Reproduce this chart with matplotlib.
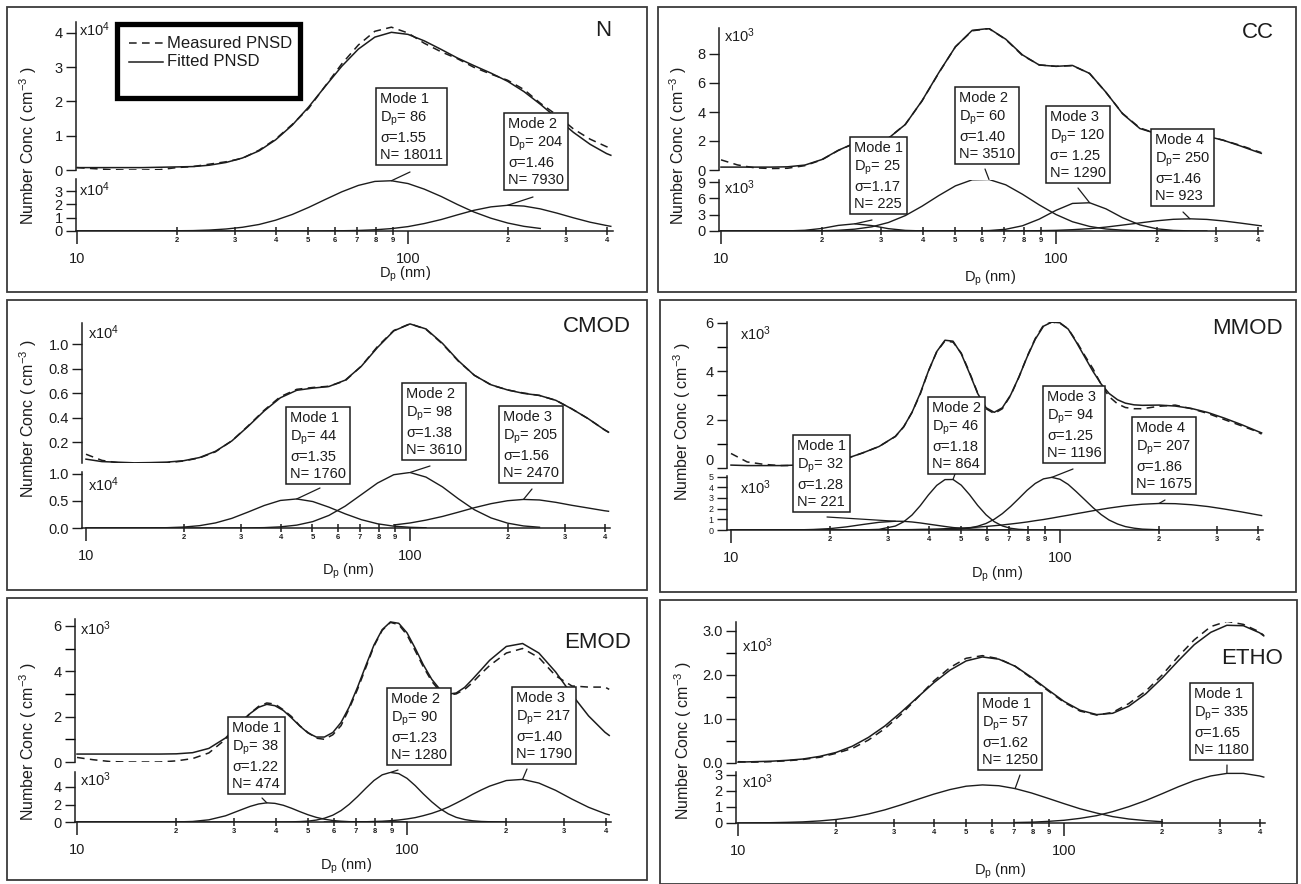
import matplotlib
matplotlib.use("Agg")
import matplotlib.pyplot as plt
from matplotlib.patches import Rectangle, ConnectionPatch
from matplotlib.lines import Line2D
from matplotlib.ticker import FixedLocator, FormatStrFormatter, FuncFormatter
import numpy as np

nan = float('nan')

# particle diameter grid (nm)
diam = [10.0, 11.2, 12.6, 14.1, 15.8, 17.8, 20.0, 22.4, 25.1, 28.2,
        31.6, 35.5, 39.8, 44.7, 50.1, 56.2, 63.1, 70.8, 79.4, 89.1,
        100, 112, 126, 141, 158, 178, 200, 224, 251, 282,
        316, 355, 398, 410]
# finer grid for the panels with narrow modes (MMOD, EMOD)
diam_fine = [10.0, 11.2, 12.6, 14.1, 15.8, 17.8, 20.0, 22.4, 25.1, 28.2,
             31.6, 33.5, 35.5, 37.6, 39.8, 42.2, 44.7, 47.3, 50.1, 53.1,
             56.2, 59.6, 63.1, 66.8, 70.8, 75.0, 79.4, 84.1, 89.1, 94.4,
             100, 105.9, 112, 118.9, 126, 133.4, 141, 149.6, 158, 167.9,
             178, 200, 224, 251, 282, 316, 355, 398, 410]

# ---- N ----
n_meas = [0.07, 0.04, 0.01, 0.00, 0.00, 0.01, 0.07, 0.10, 0.17, 0.24,
          0.34, 0.58, 0.90, 1.33, 1.80, 2.45, 3.10, 3.65, 4.05, 4.17,
          4.00, 3.70, 3.45, 3.25, 3.00, 2.80, 2.62, 2.35, 1.95, 1.60,
          1.20, 0.90, 0.68, 0.65]
n_fit = [0.07, 0.07, 0.07, 0.07, 0.07, 0.08, 0.09, 0.10, 0.14, 0.22,
         0.35, 0.56, 0.88, 1.31, 1.84, 2.44, 3.03, 3.53, 3.88, 4.02,
         3.96, 3.77, 3.52, 3.27, 3.05, 2.83, 2.59, 2.29, 1.92, 1.51,
         1.10, 0.75, 0.48, 0.43]
n_mode1 = [0.00, 0.00, 0.00, 0.00, 0.00, 0.01, 0.02, 0.03, 0.07, 0.15,
           0.28, 0.49, 0.81, 1.24, 1.77, 2.36, 2.94, 3.42, 3.72, 3.77,
           3.56, 3.14, 2.59, 1.99, 1.43, 0.96, 0.60, 0.35, 0.19, nan,
           nan, nan, nan, nan]
n_mode2 = [0.00, 0.00, 0.00, 0.00, 0.00, 0.00, 0.00, 0.00, 0.00, 0.00,
           0.00, 0.00, 0.00, 0.00, 0.00, 0.01, 0.02, 0.04, 0.09, 0.18,
           0.33, 0.56, 0.86, 1.21, 1.55, 1.81, 1.93, 1.87, 1.66, 1.34,
           0.99, 0.66, 0.41, 0.35]
n_labels = ["Mode 1\n$D_p$= 86\nσ=1.55\nN= 18011",
            "Mode 2\n$D_p$= 204\nσ=1.46\nN= 7930"]

# ---- CC ----
cc_meas = [0.70, 0.35, 0.15, 0.10, 0.12, 0.30, 0.70, 1.35, 1.85, 1.95,
           2.20, 3.15, 4.75, 6.70, 8.50, 9.60, 9.75, 9.00, 7.90, 7.25,
           7.15, 7.20, 6.65, 5.35, 3.90, 2.90, 2.50, 2.45, 2.50, 2.35,
           2.05, 1.70, 1.30, 1.20]
cc_fit = [0.20, 0.20, 0.20, 0.20, 0.22, 0.34, 0.72, 1.36, 1.86, 1.96,
          2.19, 3.14, 4.77, 6.72, 8.50, 9.63, 9.76, 9.02, 7.94, 7.24,
          7.15, 7.21, 6.66, 5.36, 3.88, 2.86, 2.50, 2.46, 2.46, 2.33,
          2.05, 1.66, 1.25, 1.15]
cc_mode1 = [0.00, 0.00, 0.00, 0.00, 0.02, 0.13, 0.47, 1.03, 1.32, 0.99,
            0.43, 0.11, 0.02, 0.00, 0.00, 0.00, 0.00, nan, nan, nan,
            nan, nan, nan, nan, nan, nan, nan, nan, nan, nan,
            nan, nan, nan, nan]
cc_mode2 = [0.00, 0.00, 0.00, 0.00, 0.00, 0.01, 0.05, 0.13, 0.34, 0.77,
            1.56, 2.83, 4.55, 6.52, 8.30, 9.41, 9.47, 8.49, 6.76, 4.80,
            3.03, 1.70, 0.84, 0.37, 0.15, 0.05, 0.02, 0.01, nan, nan,
            nan, nan, nan, nan]
cc_mode3 = [0.00, 0.00, 0.00, 0.00, 0.00, 0.00, 0.00, 0.00, 0.00, 0.00,
            0.00, 0.00, 0.00, 0.00, 0.00, 0.02, 0.08, 0.32, 0.96, 2.18,
            3.80, 5.07, 5.19, 4.07, 2.44, 1.12, 0.40, 0.11, 0.02, 0.00,
            nan, nan, nan, nan]
cc_mode4 = [nan, nan, nan, nan, nan, nan, nan, nan, nan, nan,
            nan, nan, nan, nan, 0.00, 0.00, 0.00, 0.01, 0.02, 0.06,
            0.12, 0.24, 0.43, 0.72, 1.09, 1.49, 1.88, 2.15, 2.24, 2.13,
            1.85, 1.46, 1.05, 0.95]
cc_labels = ["Mode 1\n$D_p$= 25\nσ=1.17\nN= 225",
             "Mode 2\n$D_p$= 60\nσ=1.40\nN= 3510",
             "Mode 3\n$D_p$= 120\nσ= 1.25\nN= 1290",
             "Mode 4\n$D_p$= 250\nσ=1.46\nN= 923"]

# ---- CMOD ----
cm_meas = [0.10, 0.05, 0.03, 0.02, 0.025, 0.03, 0.045, 0.07, 0.12, 0.21,
           0.33, 0.46, 0.57, 0.63, 0.645, 0.655, 0.70, 0.82, 0.98, 1.11,
           1.165, 1.12, 1.00, 0.86, 0.745, 0.665, 0.625, 0.60, 0.58, 0.54,
           0.47, 0.39, 0.30, 0.28]
cm_fit = [0.06, 0.04, 0.035, 0.03, 0.032, 0.036, 0.047, 0.073, 0.124, 0.209,
          0.326, 0.454, 0.561, 0.622, 0.640, 0.653, 0.705, 0.819, 0.972, 1.107,
          1.164, 1.123, 1.005, 0.864, 0.744, 0.667, 0.625, 0.597, 0.58, 0.54,
          0.47, 0.39, 0.30, 0.28]
cm_mode1 = [0.00, 0.00, 0.00, 0.00, 0.002, 0.006, 0.017, 0.043, 0.094, 0.179,
            0.294, 0.417, 0.510, 0.538, 0.490, 0.386, 0.262, 0.154, 0.078, 0.034,
            0.013, 0.004, nan, nan, nan, nan, nan, nan, nan, nan,
            nan, nan, nan, nan]
cm_mode2 = [0.00, 0.00, 0.00, 0.00, 0.00, 0.00, 0.00, 0.00, 0.00, 0.00,
            0.002, 0.007, 0.021, 0.053, 0.118, 0.233, 0.405, 0.619, 0.833, 0.987,
            1.028, 0.943, 0.761, 0.541, 0.338, 0.186, 0.090, 0.038, 0.014, nan,
            nan, nan, nan, nan]
cm_mode3 = [nan, nan, nan, nan, nan, nan, nan, nan, nan, nan,
            nan, nan, nan, nan, nan, nan, nan, nan, nan, 0.056,
            0.093, 0.146, 0.214, 0.293, 0.376, 0.451, 0.505, 0.529, 0.519, 0.475,
            0.42, 0.37, 0.32, 0.31]
cm_labels = ["Mode 1\n$D_p$= 44\nσ=1.35\nN= 1760",
             "Mode 2\n$D_p$= 98\nσ=1.38\nN= 3610",
             "Mode 3\n$D_p$= 205\nσ=1.56\nN= 2470"]

# ---- MMOD (fine grid) ----
mm_meas = [0.60, 0.25, 0.15, 0.10, 0.10, 0.15, 0.23, 0.39, 0.62, 0.89,
           1.30, 1.70, 2.30, 3.05, 4.00, 4.80, 5.25, 5.20, 4.75, 3.95,
           3.10, 2.45, 2.25, 2.45, 3.00, 3.75, 4.60, 5.35, 5.90, 6.03,
           5.98, 5.75, 5.25, 4.65, 4.10, 3.45, 2.95, 2.65, 2.50, 2.45,
           2.45, 2.55, 2.60, 2.45, 2.25, 2.00, 1.75, 1.50, 1.40]
mm_fit = [0.12, 0.10, 0.10, 0.10, 0.12, 0.15, 0.23, 0.39, 0.62, 0.89,
          1.31, 1.71, 2.30, 3.09, 4.00, 4.81, 5.28, 5.24, 4.72, 3.91,
          3.08, 2.49, 2.30, 2.49, 3.02, 3.76, 4.58, 5.32, 5.86, 6.03,
          6.00, 5.74, 5.21, 4.59, 3.99, 3.47, 3.08, 2.82, 2.68, 2.61,
          2.59, 2.60, 2.56, 2.46, 2.29, 2.06, 1.80, 1.52, 1.45]
mm_mode1 = [0.00, 0.00, 0.00, 0.00, 0.01, 0.05, 0.13, 0.29, 0.51, 0.72,
            0.82, 0.81, 0.75, 0.66, 0.55, 0.44, 0.33, 0.23, 0.16, 0.10,
            0.06, 0.03, 0.02, 0.01, 0.01, nan, nan, nan, nan, nan,
            nan, nan, nan, nan, nan, nan, nan, nan, nan, nan,
            nan, nan, nan, nan, nan, nan, nan, nan, nan]
mm_mode2 = [0.00, 0.00, 0.00, 0.00, 0.00, 0.00, 0.00, 0.00, 0.01, 0.06,
            0.37, 0.77, 1.40, 2.27, 3.27, 4.17, 4.71, 4.72, 4.19, 3.30,
            2.30, 1.42, 0.78, 0.38, 0.16, 0.06, 0.02, 0.01, 0.00, 0.00,
            0.00, nan, nan, nan, nan, nan, nan, nan, nan, nan,
            nan, nan, nan, nan, nan, nan, nan, nan, nan]
mm_mode3 = [nan, nan, nan, nan, nan, nan, nan, nan, 0.00, 0.00,
            0.00, 0.00, 0.00, 0.00, 0.00, 0.01, 0.02, 0.04, 0.09, 0.19,
            0.35, 0.61, 1.00, 1.53, 2.20, 2.95, 3.71, 4.35, 4.78, 4.92,
            4.74, 4.26, 3.59, 2.83, 2.09, 1.44, 0.93, 0.56, 0.32, 0.17,
            0.08, 0.02, nan, nan, nan, nan, nan, nan, nan]
mm_mode4 = [0.00, 0.00, 0.00, 0.00, 0.00, 0.00, 0.00, 0.00, 0.01, 0.01,
            0.03, 0.03, 0.04, 0.06, 0.07, 0.09, 0.12, 0.15, 0.18, 0.22,
            0.27, 0.33, 0.40, 0.47, 0.56, 0.65, 0.75, 0.87, 0.98, 1.11,
            1.25, 1.38, 1.52, 1.66, 1.80, 1.93, 2.05, 2.16, 2.26, 2.34,
            2.41, 2.48, 2.46, 2.36, 2.19, 1.96, 1.70, 1.42, 1.35]
mm_labels = ["Mode 1\n$D_p$= 32\nσ=1.28\nN= 221",
             "Mode 2\n$D_p$= 46\nσ=1.18\nN= 864",
             "Mode 3\n$D_p$= 94\nσ=1.25\nN= 1196",
             "Mode 4\n$D_p$= 207\nσ=1.86\nN= 1675"]

# ---- EMOD (fine grid) ----
em_meas = [0.20, 0.10, 0.02, 0.00, 0.00, 0.00, 0.05, 0.15, 0.40, 1.00,
           1.80, 2.15, 2.45, 2.60, 2.55, 2.30, 2.00, 1.60, 1.30, 1.05,
           1.00, 1.20, 1.60, 2.35, 3.20, 4.15, 5.10, 5.80, 6.15, 6.05,
           5.60, 4.90, 4.20, 3.55, 3.10, 2.95, 3.00, 3.20, 3.50, 3.90,
           4.25, 4.80, 5.00, 4.60, 3.80, 3.35, 3.30, 3.30, 3.20]
em_fit = [0.35, 0.35, 0.35, 0.35, 0.35, 0.35, 0.36, 0.41, 0.60, 1.06,
          1.78, 2.14, 2.41, 2.54, 2.48, 2.27, 1.94, 1.59, 1.28, 1.10,
          1.10, 1.30, 1.74, 2.42, 3.29, 4.24, 5.15, 5.83, 6.17, 6.11,
          5.69, 5.01, 4.29, 3.64, 3.19, 2.99, 3.04, 3.29, 3.65, 4.07,
          4.48, 5.09, 5.22, 4.80, 3.97, 2.97, 2.03, 1.31, 1.17]
em_mode1 = [0.00, 0.00, 0.00, 0.00, 0.00, 0.00, 0.01, 0.06, 0.25, 0.71,
            1.43, 1.79, 2.06, 2.19, 2.13, 1.91, 1.57, 1.19, 0.83, 0.53,
            0.32, 0.17, 0.09, 0.04, 0.02, 0.01, 0.00, 0.00, 0.00, 0.00,
            0.00, nan, nan, nan, nan, nan, nan, nan, nan, nan,
            nan, nan, nan, nan, nan, nan, nan, nan, nan]
em_mode2 = [0.00, 0.00, 0.00, 0.00, 0.00, 0.00, 0.00, 0.00, 0.00, 0.00,
            0.00, 0.00, 0.00, 0.00, 0.00, 0.01, 0.02, 0.05, 0.10, 0.22,
            0.43, 0.78, 1.30, 2.02, 2.90, 3.85, 4.74, 5.39, 5.67, 5.53,
            4.99, 4.16, 3.22, 2.30, 1.52, 0.93, 0.53, 0.28, 0.14, 0.06,
            0.03, 0.00, nan, nan, nan, nan, nan, nan, nan]
em_mode3 = [nan, nan, nan, nan, nan, nan, nan, nan, nan, nan,
            nan, nan, nan, nan, nan, nan, nan, nan, nan, nan,
            0.00, 0.00, 0.01, 0.01, 0.02, 0.03, 0.06, 0.09, 0.15, 0.23,
            0.35, 0.50, 0.72, 0.99, 1.32, 1.71, 2.16, 2.66, 3.16, 3.66,
            4.10, 4.74, 4.87, 4.45, 3.62, 2.62, 1.68, 0.96, 0.82]
em_labels = ["Mode 1\n$D_p$= 38\nσ=1.22\nN= 474",
             "Mode 2\n$D_p$= 90\nσ=1.23\nN= 1280",
             "Mode 3\n$D_p$= 217\nσ=1.40\nN= 1790"]

# ---- ETHO ----
et_meas = [0.03, 0.02, 0.03, 0.05, 0.08, 0.13, 0.22, 0.33, 0.52, 0.78,
           1.10, 1.48, 1.86, 2.17, 2.38, 2.44, 2.37, 2.20, 1.93, 1.65,
           1.38, 1.18, 1.09, 1.15, 1.35, 1.63, 2.00, 2.42, 2.80, 3.10,
           3.22, 3.15, 2.98, 2.90]
et_fit = [0.02, 0.03, 0.04, 0.06, 0.09, 0.15, 0.24, 0.38, 0.58, 0.84,
          1.15, 1.49, 1.82, 2.11, 2.32, 2.41, 2.36, 2.20, 1.95, 1.67,
          1.40, 1.20, 1.10, 1.13, 1.29, 1.57, 1.93, 2.32, 2.69, 2.97,
          3.13, 3.12, 2.96, 2.89]
et_mode1 = [0.00, 0.01, 0.02, 0.04, 0.07, 0.13, 0.22, 0.36, 0.56, 0.82,
            1.13, 1.47, 1.80, 2.09, 2.30, 2.38, 2.33, 2.15, 1.88, 1.55,
            1.21, 0.89, 0.62, 0.40, 0.25, 0.15, 0.08, nan, nan, nan,
            nan, nan, nan, nan]
et_mode2 = [nan, nan, nan, nan, nan, nan, nan, nan, nan, nan,
            nan, nan, nan, nan, nan, nan, nan, 0.03, 0.05, 0.10,
            0.17, 0.29, 0.46, 0.71, 1.02, 1.40, 1.83, 2.26, 2.65, 2.94,
            3.10, 3.10, 2.94, 2.87]
et_labels = ["Mode 1\n$D_p$= 57\nσ=1.62\nN= 1250",
             "Mode 1\n$D_p$= 335\nσ=1.65\nN= 1180"]

minor_vals = [20, 30, 40, 50, 60, 70, 80, 90, 200, 300, 400]
minor_labels = ['2', '3', '4', '5', '6', '7', '8', '9', '2', '3', '4']

plt.rcParams['font.family'] = ['Liberation Sans', 'DejaVu Sans']
plt.rcParams['mathtext.default'] = 'regular'

W, H = 1301, 884
INK = '#1c1c1c'
fig = plt.figure(figsize=(W / 100, H / 100), dpi=100)


def ftext(x, y, s, **kw):
    return fig.text(x / W, 1 - y / H, s, **kw)


def rect_axes(l, t, r, b):
    ax = fig.add_axes([l / W, 1 - b / H, (r - l) / W, (b - t) / H])
    ax.set_facecolor('none')
    return ax


def style_y(ax, ticks, minor, fmt, fs=10.5):
    ax.yaxis.set_major_locator(FixedLocator(ticks))
    ax.yaxis.set_major_formatter(FormatStrFormatter(fmt))
    ax.yaxis.set_minor_locator(FixedLocator(minor))
    ax.tick_params(axis='y', which='major', direction='out', length=7.5, width=1,
                   labelsize=fs, pad=2, colors=INK)
    ax.tick_params(axis='y', which='minor', direction='out', length=7.5, width=1)
    ax.spines['left'].set_linewidth(1.1)
    ax.spines['left'].set_color(INK)
    for s in ('top', 'right'):
        ax.spines[s].set_visible(False)


def draw_panel(lay, grid, meas, fit, modes, labels, boxes):
    l, t, r, b = lay['frame']
    fig.add_artist(Rectangle((l / W, 1 - b / H), (r - l) / W, (b - t) / H,
                             transform=fig.transFigure, fill=False, lw=1.3, ec='#3a3a3a'))
    x10, dec, yax = lay['x10'], lay['dec'], lay['yaxis']
    xlo = 10 ** (1 - (x10 - yax) / dec)
    xhi = 415
    right = x10 + dec * np.log10(xhi / 10)

    y0, ppu, ylo, yhi = lay['top']
    ax1 = rect_axes(yax, y0 - yhi * ppu, right, y0 - ylo * ppu)
    ax1.set_xscale('log')
    ax1.set_xlim(xlo, xhi)
    ax1.set_ylim(ylo, yhi)
    ax1.plot(grid, fit, color=INK, lw=1.1)
    ax1.plot(grid, meas, color=INK, lw=1.1, dashes=(5, 3.5))
    style_y(ax1, lay['top_ticks'], lay['top_minor'], lay['top_fmt'])
    ax1.spines['bottom'].set_visible(False)
    ax1.tick_params(axis='x', which='both', bottom=False, labelbottom=False)

    y0, ppu, ylo, yhi = lay['bot']
    ax2 = rect_axes(yax, y0 - yhi * ppu, right, y0 - ylo * ppu)
    ax2.set_xscale('log')
    ax2.set_xlim(xlo, xhi)
    ax2.set_ylim(ylo, yhi)
    for m in modes:
        ax2.plot(grid, m, color=INK, lw=1.0)
    style_y(ax2, lay['bot_ticks'], [], lay['bot_fmt'], lay.get('bot_fs', 10.5))
    ax2.spines['bottom'].set_linewidth(1.1)
    ax2.spines['bottom'].set_color(INK)
    ax2.xaxis.set_major_locator(FixedLocator([10, 100]))
    ax2.xaxis.set_major_formatter(FuncFormatter(lambda v, p: '%d' % round(v)))
    ax2.xaxis.set_minor_locator(FixedLocator(minor_vals))
    lookup = dict(zip(minor_vals, minor_labels))
    ax2.xaxis.set_minor_formatter(FuncFormatter(lambda v, p: lookup.get(int(round(v)), '')))
    ax2.tick_params(axis='x', which='major', direction='out', length=9, width=1.1,
                    labelsize=10.5, pad=6, colors=INK)
    ax2.tick_params(axis='x', which='minor', direction='inout', length=6, width=1.1,
                    labelsize=5.5, pad=1.5, colors=INK)
    plt.setp(ax2.xaxis.get_minorticklabels(), fontweight='bold')

    ex = lay['exp']
    ftext(*lay['x10_top'], 'x$10^%s$' % ex, fontsize=10.5, va='center', color=INK)
    ftext(*lay['x10_bot'], 'x$10^%s$' % ex, fontsize=10.5, va='center', color=INK)
    title, tx, ty = lay['title']
    ftext(tx, ty, title, fontsize=16, ha='right', va='center', color=INK)
    ftext(*lay['ylabel'], 'Number Conc ( $cm^{-3}$ )', fontsize=11.5, rotation=90,
          ha='center', va='center', color=INK)
    ftext(*lay['xlabel'], '$D_p$ (nm)', fontsize=10.5, ha='center', va='center', color=INK)

    for lab, (bl, bt, sx, sy, mi, k) in zip(labels, boxes):
        ftext(bl + 4, bt + 4, lab, fontsize=10.5, ha='left', va='top', linespacing=1.28,
              color=INK, zorder=5,
              bbox=dict(boxstyle='square,pad=0.25', fc='white', ec=INK, lw=1.1))
        m = modes[mi]
        if k is None:
            k = int(np.nanargmax(m))
        fig.add_artist(ConnectionPatch((sx, H - sy), (grid[k], m[k]), coordsA='figure pixels',
                                       coordsB='data', axesB=ax2, color=INK, lw=0.9, zorder=4))
    return ax1, ax2


lay_n = dict(frame=(7, 7, 647, 292), x10=77, dec=331, yaxis=76,
             top=(170, 34.25, 0, 4.32), bot=(231, 13.33, 0, 3.9),
             top_ticks=[0, 1, 2, 3, 4], top_minor=[], top_fmt='%d',
             bot_ticks=[0, 1, 2, 3], bot_fmt='%d', exp='4',
             x10_top=(79, 30), x10_bot=(79, 190), title=('N', 611, 31),
             ylabel=(28, 146), xlabel=(405, 274))
lay_cc = dict(frame=(658, 7, 1296, 292), x10=721, dec=335, yaxis=719,
              top=(170, 14.5, 0, 9.8), bot=(231, 5.44, 0, 9.4),
              top_ticks=[0, 2, 4, 6, 8], top_minor=[], top_fmt='%d',
              bot_ticks=[0, 3, 6, 9], bot_fmt='%d', exp='3',
              x10_top=(724, 36), x10_bot=(724, 188), title=('CC', 1274, 33),
              ylabel=(678, 146), xlabel=(990, 278))
lay_cm = dict(frame=(7, 300, 647, 590), x10=86, dec=324, yaxis=82,
              top=(466.5, 122.5, 0.03, 1.17), bot=(528, 54, 0, 1.04),
              top_ticks=[0.2, 0.4, 0.6, 0.8, 1.0], top_minor=[], top_fmt='%.1f',
              bot_ticks=[0.0, 0.5, 1.0], bot_fmt='%.1f', exp='4',
              x10_top=(88, 333), x10_bot=(88, 485), title=('CMOD', 631, 327),
              ylabel=(28, 419), xlabel=(348, 571))
lay_mm = dict(frame=(660, 300, 1296, 592), x10=731, dec=329, yaxis=727,
              top=(468, 24.2, 0, 6.05), bot=(530, 10.7, 0, 5.05),
              top_ticks=[0, 2, 4, 6], top_minor=[1, 3, 5], top_fmt='%d',
              bot_ticks=[0, 1, 2, 3, 4, 5], bot_fmt='%d', bot_fs=6.5, exp='3',
              x10_top=(740, 334), x10_bot=(740, 488), title=('MMOD', 1283, 328),
              ylabel=(682, 422), xlabel=(997, 574))
lay_em = dict(frame=(7, 598, 647, 880), x10=77, dec=330, yaxis=75,
              top=(762, 22.7, 0, 6.3), bot=(822, 8.75, 0, 5.7),
              top_ticks=[0, 2, 4, 6], top_minor=[1, 3, 5], top_fmt='%d',
              bot_ticks=[0, 2, 4], bot_fmt='%d', exp='3',
              x10_top=(80, 629), x10_bot=(80, 780), title=('EMOD', 631, 643),
              ylabel=(28, 742), xlabel=(346, 866))
lay_et = dict(frame=(660, 600, 1297, 884), x10=738, dec=326, yaxis=736,
              top=(763, 44, 0, 3.2), bot=(823, 16, 0, 3.2),
              top_ticks=[0, 1, 2, 3], top_minor=[0.5, 1.5, 2.5], top_fmt='%.1f',
              bot_ticks=[0, 1, 2, 3], bot_fmt='%d', exp='3',
              x10_top=(742, 646), x10_bot=(742, 782), title=('ETHO', 1283, 658),
              ylabel=(683, 741), xlabel=(1000, 871))

# box: left, top, leader start x, leader start y, mode index, target index
draw_panel(lay_n, diam, n_meas, n_fit, [n_mode1, n_mode2], n_labels,
           [(376, 88, 410, 172, 0, None), (504, 113, 533, 197, 1, None)])
draw_panel(lay_cc, diam, cc_meas, cc_fit, [cc_mode1, cc_mode2, cc_mode3, cc_mode4], cc_labels,
           [(850, 137, 872, 220, 0, None), (955, 87, 985, 169, 1, None),
            (1046, 106, 1078, 188, 2, None), (1151, 129, 1183, 212, 3, None)])
draw_panel(lay_cm, diam, cm_meas, cm_fit, [cm_mode1, cm_mode2, cm_mode3], cm_labels,
           [(286, 407, 320, 488, 0, None), (402, 383, 430, 466, 1, None),
            (499, 406, 532, 489, 2, None)])
mm_top, mm_bot = draw_panel(lay_mm, diam_fine, mm_meas, mm_fit,
                            [mm_mode1, mm_mode2, mm_mode3, mm_mode4], mm_labels,
                            [(793, 435, 827, 517, 0, None), (928, 397, 955, 474, 1, None),
                             (1043, 386, 1073, 469, 2, None), (1132, 417, 1165, 500, 3, None)])
# lift the "0" of the upper MMOD scale clear of the "5" below it
mm_top.get_yticklabels()[0].set_va('bottom')
draw_panel(lay_em, diam_fine, em_meas, em_fit, [em_mode1, em_mode2, em_mode3], em_labels,
           [(228, 717, 262, 798, 0, None), (387, 688, 398, 770, 1, None),
            (512, 687, 527, 769, 2, None)])
draw_panel(lay_et, diam, et_meas, et_fit, [et_mode1, et_mode2], et_labels,
           [(978, 693, 1020, 775, 0, 17), (1190, 683, 1227, 765, 1, None)])

# legend of the N panel
fig.add_artist(Rectangle((117 / W, 1 - 98 / H), 183 / W, 74 / H, transform=fig.transFigure,
                         fill=False, lw=3.8, ec='black', zorder=6))
fig.add_artist(Line2D([129 / W, 163 / W], [1 - 43 / H, 1 - 43 / H], transform=fig.transFigure,
                      color=INK, lw=1.1, dashes=(5, 3.5)))
fig.add_artist(Line2D([129 / W, 163 / W], [1 - 62 / H, 1 - 62 / H], transform=fig.transFigure,
                      color=INK, lw=1.1))
ftext(167, 43, 'Measured PNSD', fontsize=12, va='center', color=INK)
ftext(167, 62, 'Fitted PNSD', fontsize=12, va='center', color=INK)

fig.savefig('out.png', dpi=100)
